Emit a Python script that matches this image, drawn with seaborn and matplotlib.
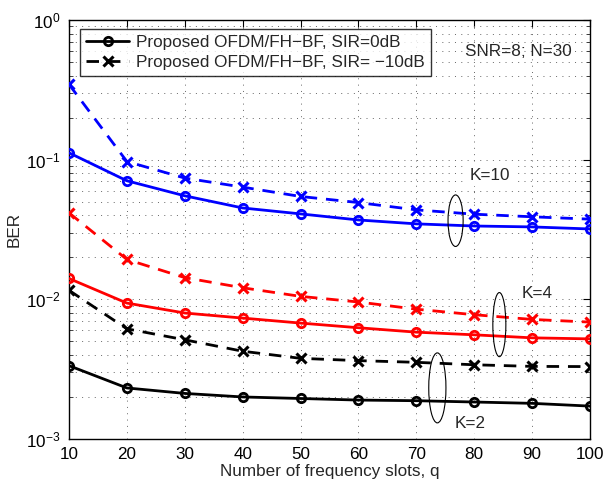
import numpy as np
import pandas as pd
import matplotlib
matplotlib.use("Agg")
import matplotlib.pyplot as plt
from matplotlib.patches import Ellipse
from matplotlib.lines import Line2D
from matplotlib.ticker import LogLocator, NullFormatter, FixedLocator
import seaborn as sns

# ---------------- data ----------------
q = [10, 20, 30, 40, 50, 60, 70, 80, 90, 100]
k10_sir0 = [0.112, 0.0706, 0.0551, 0.0451, 0.0409, 0.037, 0.0347, 0.0335, 0.033, 0.0319]
k10_sirm10 = [0.346, 0.097, 0.0738, 0.0636, 0.0545, 0.0493, 0.0437, 0.0407, 0.039, 0.0375]
k4_sir0 = [0.0141, 0.0094, 0.00798, 0.00734, 0.00676, 0.00626, 0.00582, 0.00557, 0.0053, 0.00521]
k4_sirm10 = [0.0416, 0.0193, 0.0143, 0.0121, 0.0105, 0.00957, 0.0085, 0.00776, 0.00718, 0.00687]
k2_sir0 = [0.00335, 0.00232, 0.00212, 0.002, 0.00195, 0.0019, 0.00188, 0.00184, 0.0018, 0.00172]
k2_sirm10 = [0.0116, 0.00615, 0.00513, 0.00425, 0.00378, 0.00364, 0.00354, 0.0034, 0.00331, 0.0033]

legend_labels = ["Proposed OFDM/FH\u2212BF, SIR=0dB", "Proposed OFDM/FH\u2212BF, SIR= \u221210dB"]
k_labels = ["K=10", "K=4", "K=2"]
xlabel = "Number of frequency slots, q"
ylabel = "BER"
note = "SNR=8; N=30"

series = [
    ("K=10", "0dB", k10_sir0, "#0000ff"),
    ("K=10", "-10dB", k10_sirm10, "#0000ff"),
    ("K=4", "0dB", k4_sir0, "#ff0000"),
    ("K=4", "-10dB", k4_sirm10, "#ff0000"),
    ("K=2", "0dB", k2_sir0, "#000000"),
    ("K=2", "-10dB", k2_sirm10, "#000000"),
]

rows = []
for k, sir, vals, col in series:
    for xi, yi in zip(q, vals):
        rows.append({"q": xi, "BER": yi, "K": k, "SIR": sir})
df = pd.DataFrame(rows)

# ---------------- style ----------------
sns.set_style("white")
plt.rcParams["font.family"] = ["Liberation Sans", "DejaVu Sans"]
plt.rcParams["mathtext.default"] = "regular"
FS = 12.3

fig = plt.figure(figsize=(6.04, 4.83), dpi=100)
W, H = 604, 483
L, R, T, B = 69, 590, 20, 439
ax = fig.add_axes([L / W, 1 - B / H, (R - L) / W, (B - T) / H])

DASH = (0, (4.5, 3.2))
for k, sir, vals, col in series:
    sub = df[(df["K"] == k) & (df["SIR"] == sir)]
    if sir == "0dB":
        sns.lineplot(data=sub, x="q", y="BER", ax=ax, color=col, linewidth=2,
                     marker="o", markersize=6, markerfacecolor="none",
                     markeredgecolor=col, markeredgewidth=2, zorder=3)
    else:
        sns.lineplot(data=sub, x="q", y="BER", ax=ax, color=col, linewidth=2,
                     linestyle=DASH, marker="x", markersize=6.5,
                     markeredgecolor=col, markeredgewidth=2.2, zorder=3)

ax.set_yscale("log")
ax.set_xlim(10, 100)
ax.set_ylim(1e-3, 1)
ax.xaxis.set_major_locator(FixedLocator(q))
ax.set_xticklabels([str(v) for v in q])
ax.yaxis.set_major_locator(LogLocator(base=10, numticks=10))
ax.yaxis.set_minor_locator(LogLocator(base=10, subs=np.arange(2, 10), numticks=20))
ax.yaxis.set_minor_formatter(NullFormatter())

ax.tick_params(axis="both", which="major", direction="in", length=5, width=0.8,
               top=True, right=True, labelsize=FS, pad=6, colors="black")
ax.tick_params(axis="y", which="minor", direction="in", length=3, width=0.6,
               left=True, right=True)
for s in ax.spines.values():
    s.set_color("black")
    s.set_linewidth(1.0)

GRID = dict(linestyle=(0, (1, 5.5)), color="#666666", linewidth=0.7)
ax.grid(True, which="major", axis="both", **GRID)
ax.grid(True, which="minor", axis="y", **GRID)

ax.set_xlabel(xlabel, fontsize=FS, labelpad=1)
ax.set_ylabel(ylabel, fontsize=FS, labelpad=3)

# legend
handles = [
    Line2D([], [], color="black", linewidth=2, marker="o", markersize=6,
           markerfacecolor="none", markeredgewidth=2),
    Line2D([], [], color="black", linewidth=2, linestyle=DASH, marker="x",
           markersize=6.5, markeredgewidth=2.2),
]
leg = ax.legend(handles, legend_labels, loc="upper left", bbox_to_anchor=(0.022, 0.978),
                fontsize=FS, frameon=True, fancybox=False, handlelength=2.5,
                handletextpad=0.4, borderpad=0.35, labelspacing=0.3, numpoints=1,
                borderaxespad=0)
leg.get_frame().set_edgecolor("black")
leg.get_frame().set_linewidth(1.0)
leg.set_zorder(5)

# annotations
ax.text(0.862, 0.924, note, transform=ax.transAxes, ha="center", va="center", fontsize=FS)
txt_pos = [(0.808, 0.628), (0.898, 0.348), (0.770, 0.038)]
for lab, (tx, ty) in zip(k_labels, txt_pos):
    ax.text(tx, ty, lab, transform=ax.transAxes, ha="center", va="center", fontsize=FS,
            zorder=6, clip_on=False,
            bbox=dict(facecolor="white", edgecolor="none", pad=2))

ell = [(0.742, 0.521, 0.029, 0.123), (0.826, 0.273, 0.025, 0.153), (0.707, 0.122, 0.033, 0.167)]
for cx, cy, ew, eh in ell:
    ax.add_patch(Ellipse((cx, cy), ew, eh, transform=ax.transAxes, fill=False,
                         edgecolor="black", linewidth=0.8, zorder=4))

fig.savefig("out.png", dpi=100)
